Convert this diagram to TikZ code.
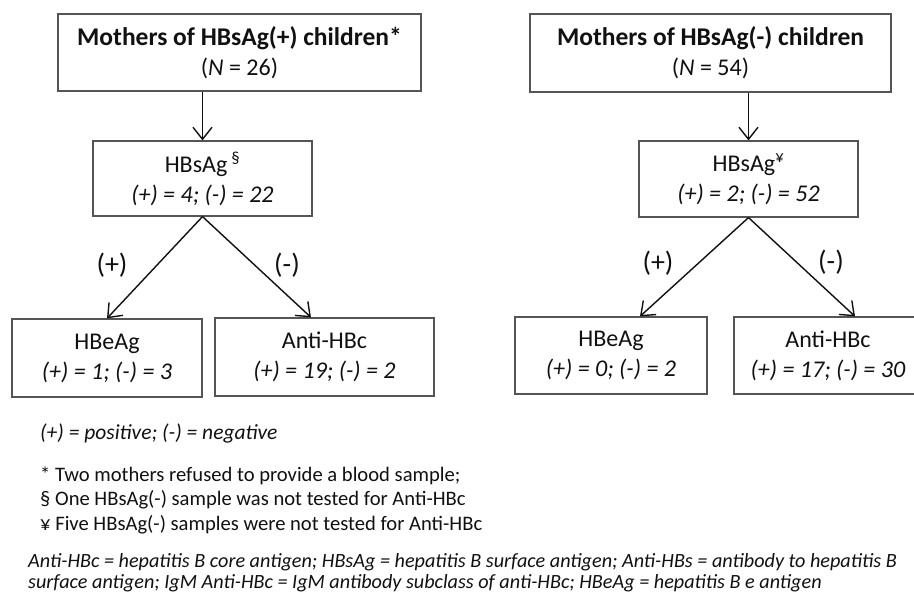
\documentclass[tikz,border=0pt]{standalone}
\usepackage{fontspec}
\setmainfont{Carlito}
\usetikzlibrary{arrows.meta,calc}
\definecolor{boxline}{HTML}{555555}
\definecolor{txt}{HTML}{111111}
\tikzset{
  box/.style={draw=boxline, line width=1.2pt, rectangle, inner sep=0pt, align=center, text=txt,
     font=\fontsize{24}{30}\selectfont},
  arr/.style={draw=txt, line width=1.4pt, -{Straight Barb[length=12pt,width=19pt,line width=1.4pt]}},
  sign/.style={font=\fontsize{28}{30}\selectfont, text=txt, inner sep=0pt},
  note/.style={anchor=west, inner sep=0pt, text=txt, align=left},
}
\begin{document}
\begin{tikzpicture}[x=1pt,y=-1pt]
\useasboundingbox (0,0) rectangle (914,593);
\fill[white] (0,0) rectangle (914,593);
\clip (0,0) rectangle (914,593);
% left tree
\node[box, minimum width=363pt, minimum height=77pt] (m1) at (239.5,52.5)
  {\fontsize{25.5}{32}\selectfont\textbf{Mothers of HBsAg(+) children*}\\(\textit{N} = 26)};
\node[box, minimum width=219pt, minimum height=75pt] (s1) at (202.5,178.5)
  {HBsAg\,\textsuperscript{§}\\\textit{(+) = 4; (-) = 22}};
\node[box, minimum width=190pt, minimum height=78pt] (e1) at (107,358)
  {HBeAg\\\textit{(+) = 1; (-) = 3}};
\node[box, minimum width=219pt, minimum height=78pt] (c1) at (324.5,357)
  {Anti-HBc\\\textit{(+) = 19; (-) = 2}};
\draw[arr] (s1.north |- m1.south) -- (s1.north);
\draw[arr] (s1.south) -- (e1.north);
\draw[arr] (s1.south) -- ([xshift=-13.5pt]c1.north);
\node[sign] (p1) at (112,265) {(+)};
\node[sign] (n1) at (287,265) {(-)};
% right tree
\node[box, minimum width=361pt, minimum height=78pt] (m2) at (710.5,53)
  {\fontsize{25.5}{32}\selectfont\textbf{Mothers of HBsAg(-) children}\\(\textit{N} = 54)};
\node[box, minimum width=219pt, minimum height=76pt] (s2) at (748.5,179)
  {HBsAg\textsuperscript{¥}\\\textit{(+) = 2; (-) = 52}};
\node[box, minimum width=192pt, minimum height=77pt] (e2) at (611,355.5)
  {HBeAg\\\textit{(+) = 0; (-) = 2}};
\node[box, minimum width=188pt, minimum height=77pt] (c2) at (828,355.5)
  {Anti-HBc\\\textit{(+) = 17; (-) = 30}};
\draw[arr] (s2.north |- m2.south) -- (s2.north);
\draw[arr] (s2.south) -- ([xshift=29pt]e2.north);
\draw[arr] (s2.south) -- ([xshift=27pt]c2.north);
\node[sign] (p2) at (658,263) {(+)};
\node[sign] (n2) at (831,262) {(-)};
% notes
\node[note, font=\fontsize{21.5}{24}\selectfont\itshape] (legend) at (40,433) {(+) = positive; (-) = negative};
\node[note, font=\fontsize{20.6}{24.5}\selectfont] (fn) at (40,500)
  {* Two mothers refused to provide a blood sample;\\
   § One HBsAg(-) sample was not tested for Anti-HBc\\
   ¥ Five HBsAg(-) samples were not tested for Anti-HBc};
\node[note, font=\fontsize{20.2}{20.6}\selectfont\itshape] (gl) at (28,573)
  {Anti-HBc = hepatitis B core antigen; HBsAg = hepatitis B surface antigen; Anti-HBs = antibody to hepatitis B\\
   surface antigen; IgM Anti-HBc = IgM antibody subclass of anti-HBc; HBeAg = hepatitis B e antigen};
\end{tikzpicture}
\end{document}
